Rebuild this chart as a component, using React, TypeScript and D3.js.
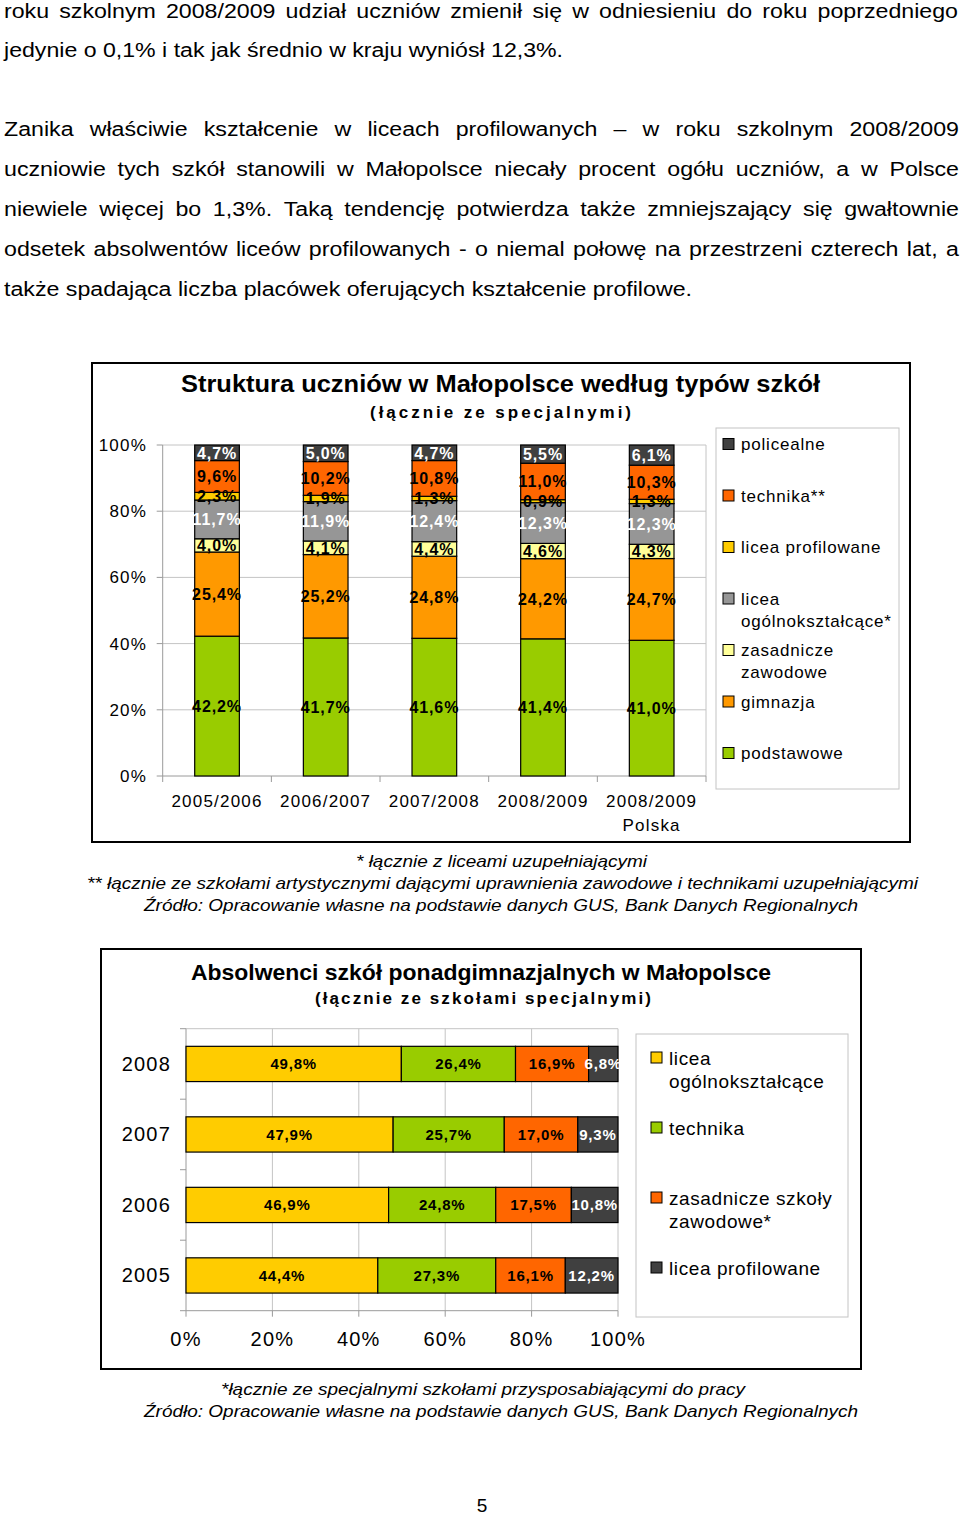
import React from 'react';
import * as d3 from 'd3';

// ---------- Chart 1 data: Struktura uczniów ----------
const schoolYears = ['2005/2006', '2006/2007', '2007/2008', '2008/2009', '2008/2009 Polska'];
const schoolYearLines = [['2005/2006'], ['2006/2007'], ['2007/2008'], ['2008/2009'], ['2008/2009', 'Polska']];
const types1 = ['podstawowe', 'gimnazja', 'zasadnicze zawodowe', 'licea ogólnokształcące*', 'licea profilowane', 'technika**', 'policealne'];
const podstawowe = [42.2, 41.7, 41.6, 41.4, 41.0];
const gimnazja = [25.4, 25.2, 24.8, 24.2, 24.7];
const zasadnicze = [4.0, 4.1, 4.4, 4.6, 4.3];
const liceaOgolno = [11.7, 11.9, 12.4, 12.3, 12.3];
const liceaProfil = [2.3, 1.9, 1.3, 0.9, 1.3];
const technika = [9.6, 10.2, 10.8, 11.0, 10.3];
const policealne = [4.7, 5.0, 4.7, 5.5, 6.1];
const series1 = [podstawowe, gimnazja, zasadnicze, liceaOgolno, liceaProfil, technika, policealne];
const colors1 = ['#99CC00', '#FF9900', '#FFFF99', '#969696', '#FFCC00', '#FF6600', '#404040'];
const labelColors1 = ['#000', '#000', '#000', '#fff', '#000', '#000', '#fff'];
const legend1Lines = [['podstawowe'], ['gimnazja'], ['zasadnicze', 'zawodowe'], ['licea', 'ogólnokształcące*'], ['licea profilowane'], ['technika**'], ['policealne']];
const yTicks1 = [0, 0.2, 0.4, 0.6, 0.8, 1];

// ---------- Chart 2 data: Absolwenci ----------
const gradYears = ['2008', '2007', '2006', '2005'];
const types2 = ['licea ogólnokształcące', 'technika', 'zasadnicze szkoły zawodowe*', 'licea profilowane'];
const liceaOgolno2 = [49.8, 47.9, 46.9, 44.4];
const technika2 = [26.4, 25.7, 24.8, 27.3];
const zasadnicze2 = [16.9, 17.0, 17.5, 16.1];
const liceaProfil2 = [6.8, 9.3, 10.8, 12.2];
const series2 = [liceaOgolno2, technika2, zasadnicze2, liceaProfil2];
const colors2 = ['#FFCC00', '#99CC00', '#FF6600', '#404040'];
const labelColors2 = ['#000', '#000', '#000', '#fff'];
const legend2Lines = [['licea', 'ogólnokształcące'], ['technika'], ['zasadnicze szkoły', 'zawodowe*'], ['licea profilowane']];
const xTicks2 = [0, 0.2, 0.4, 0.6, 0.8, 1];

// ---------- Text ----------
const paragraphLines = [
  { text: 'roku szkolnym 2008/2009 udział uczniów zmienił się w odniesieniu do roku poprzedniego', y: 18, justify: true, w: 954 },
  { text: 'jedynie o 0,1% i tak jak średnio w kraju wyniósł 12,3%.', y: 57, justify: false, w: 559 },
  { text: 'Zanika właściwie kształcenie w liceach profilowanych – w roku szkolnym 2008/2009', y: 136, justify: true, w: 955 },
  { text: 'uczniowie tych szkół stanowili w Małopolsce niecały procent ogółu uczniów, a w Polsce', y: 176, justify: true, w: 955 },
  { text: 'niewiele więcej bo 1,3%. Taką tendencję potwierdza także zmniejszający się gwałtownie', y: 216, justify: true, w: 955 },
  { text: 'odsetek absolwentów liceów profilowanych - o niemal połowę na przestrzeni czterech lat, a', y: 256, justify: true, w: 955 },
  { text: 'także spadająca liczba placówek oferujących kształcenie profilowe.', y: 296, justify: false, w: 688 },
];
const notes1 = [
  { text: '* łącznie z liceami uzupełniającymi', x: 356, y: 867, w: 291 },
  { text: '** łącznie ze szkołami artystycznymi dającymi uprawnienia zawodowe i technikami uzupełniającymi', x: 87, y: 889, w: 831 },
  { text: 'Źródło: Opracowanie własne na podstawie danych GUS, Bank Danych Regionalnych', x: 144, y: 911, w: 714 },
];
const notes2 = [
  { text: '*łącznie ze specjalnymi szkołami przysposabiającymi do pracy', x: 221, y: 1395, w: 524 },
  { text: 'Źródło: Opracowanie własne na podstawie danych GUS, Bank Danych Regionalnych', x: 144, y: 1417, w: 714 },
];

const FONT = "'Liberation Sans', Arial, Helvetica, sans-serif";
const fmt = (v: number) => d3.format('.1f')(v).replace('.', ',') + '%';

let ctx: CanvasRenderingContext2D | null = null;
function measure(text: string, font: string) {
  if (!ctx) ctx = document.createElement('canvas').getContext('2d');
  ctx!.font = font;
  return ctx!.measureText(text).width;
}

function Paragraph() {
  const pfont = "20px 'Liberation Sans', Arial, sans-serif";
  const ref = paragraphLines[paragraphLines.length - 1];
  const s = ref.w / measure(ref.text, pfont);
  const out: any[] = [];
  paragraphLines.forEach((ln, li) => {
    if (!ln.justify) {
      out.push(
        <text key={li} x={4} y={ln.y} fontSize={20} textLength={ln.w} lengthAdjust="spacingAndGlyphs">{ln.text}</text>
      );
    } else {
      const words = ln.text.split(' ');
      const ww = words.map((w) => measure(w, pfont) * s);
      const gap = (ln.w - d3.sum(ww)) / (words.length - 1);
      let x = 4;
      words.forEach((w, wi) => {
        out.push(
          <text key={li + '-' + wi} x={x} y={ln.y} fontSize={20} textLength={ww[wi]} lengthAdjust="spacingAndGlyphs">{w}</text>
        );
        x += ww[wi] + gap;
      });
    }
  });
  return <g fill="#000" fontFamily={FONT}>{out}</g>;
}

function Chart1() {
  const rows = schoolYears.map((y, i) => {
    const r: any = { year: y };
    types1.forEach((t, k) => (r[t] = series1[k][i]));
    return r;
  });
  const stack = d3.stack<any>().keys(types1).offset(d3.stackOffsetExpand)(rows);
  const x = d3.scaleBand<string>().domain(schoolYears).range([162.7, 706]).paddingInner(0.589).paddingOuter(0.2945);
  const y = d3.scaleLinear().domain([0, 1]).range([776, 445]);
  const step = x.step();
  const x0 = 162.7;
  return (
    <g fontFamily={FONT}>
      <rect x={92} y={363} width={818} height={479} fill="#fff" stroke="#000" strokeWidth={2} />
      <text x={181} y={392} fontSize={23} fontWeight="bold" textLength={639} lengthAdjust="spacingAndGlyphs">Struktura uczniów w Małopolsce według typów szkół</text>
      <text x={370} y={418} fontSize={17} fontWeight="bold" textLength={261}>(łącznie ze specjalnymi)</text>
      {yTicks1.filter((t) => t > 0).map((t) => (
        <line key={t} x1={x0} x2={706} y1={y(t)} y2={y(t)} stroke="#c4c4c4" />
      ))}
      <line x1={706} x2={706} y1={y(1)} y2={y(0)} stroke="#c4c4c4" />
      <line x1={x0} x2={x0} y1={y(1)} y2={y(0)} stroke="#9a9a9a" />
      <line x1={x0} x2={706} y1={y(0)} y2={y(0)} stroke="#9a9a9a" />
      {yTicks1.map((t) => (
        <g key={'yt' + t}>
          <line x1={x0 - 6} x2={x0} y1={y(t)} y2={y(t)} stroke="#9a9a9a" />
          <text x={147} y={y(t) + 6} fontSize={17} letterSpacing={1.2} textAnchor="end">{Math.round(t * 100) + '%'}</text>
        </g>
      ))}
      {d3.range(schoolYears.length + 1).map((i) => (
        <line key={'xt' + i} x1={x0 + i * step} x2={x0 + i * step} y1={y(0)} y2={y(0) + 6} stroke="#9a9a9a" />
      ))}
      {schoolYears.map((yr, i) => (
        <text key={yr} x={(x(yr) as number) + x.bandwidth() / 2} y={807} fontSize={17} letterSpacing={1.2} textAnchor="middle">
          {schoolYearLines[i].map((l, j) => (
            <tspan key={j} x={(x(yr) as number) + x.bandwidth() / 2} dy={j === 0 ? 0 : 24}>{l}</tspan>
          ))}
        </text>
      ))}
      {stack.map((layer, k) => (
        <g key={layer.key}>
          {layer.map((d, i) => (
            <rect key={i} x={x(schoolYears[i])} width={x.bandwidth()} y={y(d[1])} height={y(d[0]) - y(d[1])}
              fill={colors1[k]} stroke="#000" strokeWidth={1.2} />
          ))}
        </g>
      ))}
      {stack.map((layer, k) => (
        <g key={'l' + layer.key}>
          {layer.map((d, i) => (
            <text key={i} x={(x(schoolYears[i]) as number) + x.bandwidth() / 2} y={y((d[0] + d[1]) / 2) + 6}
              fontSize={16} fontWeight="bold" letterSpacing={0.9} textAnchor="middle" fill={labelColors1[k]}>
              {fmt(series1[k][i])}
            </text>
          ))}
        </g>
      ))}
      <rect x={716} y={428} width={183} height={361} fill="#fff" stroke="#c4c4c4" />
      {types1.map((t, k) => {
        const idx = types1.length - 1 - k;
        const cy = 444 + idx * 51.5;
        return (
          <g key={'lg' + t}>
            <rect x={723} y={cy - 5.5} width={11} height={11} fill={colors1[k]} stroke="#000" />
            <text x={741} y={cy + 6} fontSize={17} letterSpacing={0.8}>
              {legend1Lines[k].map((l, j) => (
                <tspan key={j} x={741} dy={j === 0 ? 0 : 22}>{l}</tspan>
              ))}
            </text>
          </g>
        );
      })}
    </g>
  );
}

function Chart2() {
  const rows = gradYears.map((y, i) => {
    const r: any = { year: y };
    types2.forEach((t, k) => (r[t] = series2[k][i]));
    return r;
  });
  const stack = d3.stack<any>().keys(types2).offset(d3.stackOffsetExpand)(rows);
  const x = d3.scaleLinear().domain([0, 1]).range([186, 618]);
  const y = d3.scaleBand<string>().domain(gradYears).range([1028.7, 1310.7]).paddingInner(0.5).paddingOuter(0.25);
  const top = 1028.7, bottom = 1310.7;
  return (
    <g fontFamily={FONT}>
      <defs>
        <clipPath id="clip2"><rect x={186} y={top} width={434} height={bottom - top} /></clipPath>
      </defs>
      <rect x={101} y={949} width={760} height={420} fill="#fff" stroke="#000" strokeWidth={2} />
      <text x={191} y={980} fontSize={22} fontWeight="bold" textLength={580} lengthAdjust="spacingAndGlyphs">Absolwenci szkół ponadgimnazjalnych w Małopolsce</text>
      <text x={315} y={1004} fontSize={17} fontWeight="bold" textLength={336}>(łącznie ze szkołami specjalnymi)</text>
      {xTicks2.filter((t) => t > 0).map((t) => (
        <line key={t} x1={x(t)} x2={x(t)} y1={top} y2={bottom} stroke="#c4c4c4" />
      ))}
      <line x1={x(0)} x2={x(1)} y1={top} y2={top} stroke="#c4c4c4" />
      <line x1={x(0)} x2={x(0)} y1={top} y2={bottom} stroke="#9a9a9a" />
      <line x1={x(0)} x2={x(1)} y1={bottom} y2={bottom} stroke="#9a9a9a" />
      {d3.range(gradYears.length + 1).map((i) => (
        <line key={'yt' + i} x1={x(0) - 6} x2={x(0)} y1={top + i * y.step()} y2={top + i * y.step()} stroke="#9a9a9a" />
      ))}
      {xTicks2.map((t) => (
        <g key={'xt' + t}>
          <line x1={x(t)} x2={x(t)} y1={bottom} y2={bottom + 6} stroke="#9a9a9a" />
          <text x={x(t)} y={1346} fontSize={20} letterSpacing={1.2} textAnchor="middle">{Math.round(t * 100) + '%'}</text>
        </g>
      ))}
      {gradYears.map((yr) => (
        <text key={yr} x={171} y={(y(yr) as number) + y.bandwidth() / 2 + 7} fontSize={20} letterSpacing={1.2} textAnchor="end">{yr}</text>
      ))}
      {stack.map((layer, k) => (
        <g key={layer.key}>
          {layer.map((d, i) => (
            <rect key={i} y={y(gradYears[i])} height={y.bandwidth()} x={x(d[0])} width={x(d[1]) - x(d[0])}
              fill={colors2[k]} stroke="#000" strokeWidth={1.2} />
          ))}
        </g>
      ))}
      <g clipPath="url(#clip2)">
        {stack.map((layer, k) => (
          <g key={'l' + layer.key}>
            {layer.map((d, i) => (
              <text key={i} x={x((d[0] + d[1]) / 2)} y={(y(gradYears[i]) as number) + y.bandwidth() / 2 + 5.5}
                fontSize={15} fontWeight="bold" letterSpacing={0.8} textAnchor="middle" fill={labelColors2[k]}>
                {fmt(series2[k][i])}
              </text>
            ))}
          </g>
        ))}
      </g>
      <rect x={636} y={1034} width={212} height={283} fill="#fff" stroke="#c4c4c4" />
      {types2.map((t, k) => {
        const cy = 1058 + k * 70;
        return (
          <g key={'lg' + t}>
            <rect x={651} y={cy - 6} width={11} height={11} fill={colors2[k]} stroke="#000" />
            <text x={669} y={cy + 6.5} fontSize={19} letterSpacing={0.6}>
              {legend2Lines[k].map((l, j) => (
                <tspan key={j} x={669} dy={j === 0 ? 0 : 23}>{l}</tspan>
              ))}
            </text>
          </g>
        );
      })}
    </g>
  );
}

function Notes({ items }: { items: { text: string; x: number; y: number; w: number }[] }) {
  return (
    <g fontFamily={FONT} fontStyle="italic">
      {items.map((n, i) => (
        <text key={i} x={n.x} y={n.y} fontSize={17} textLength={n.w} lengthAdjust="spacingAndGlyphs">{n.text}</text>
      ))}
    </g>
  );
}

export default function App() {
  return (
    <div style={{ position: 'absolute', left: 0, top: 0, width: 960, height: 1515, background: '#fff' }}>
      <svg width={960} height={1515} viewBox="0 0 960 1515" style={{ display: 'block' }}>
        <rect width={960} height={1515} fill="#fff" />
        <Paragraph />
        <Chart1 />
        <Notes items={notes1} />
        <Chart2 />
        <Notes items={notes2} />
        <text x={482} y={1512} fontSize={19} fontFamily={FONT} textAnchor="middle">5</text>
      </svg>
    </div>
  );
}
